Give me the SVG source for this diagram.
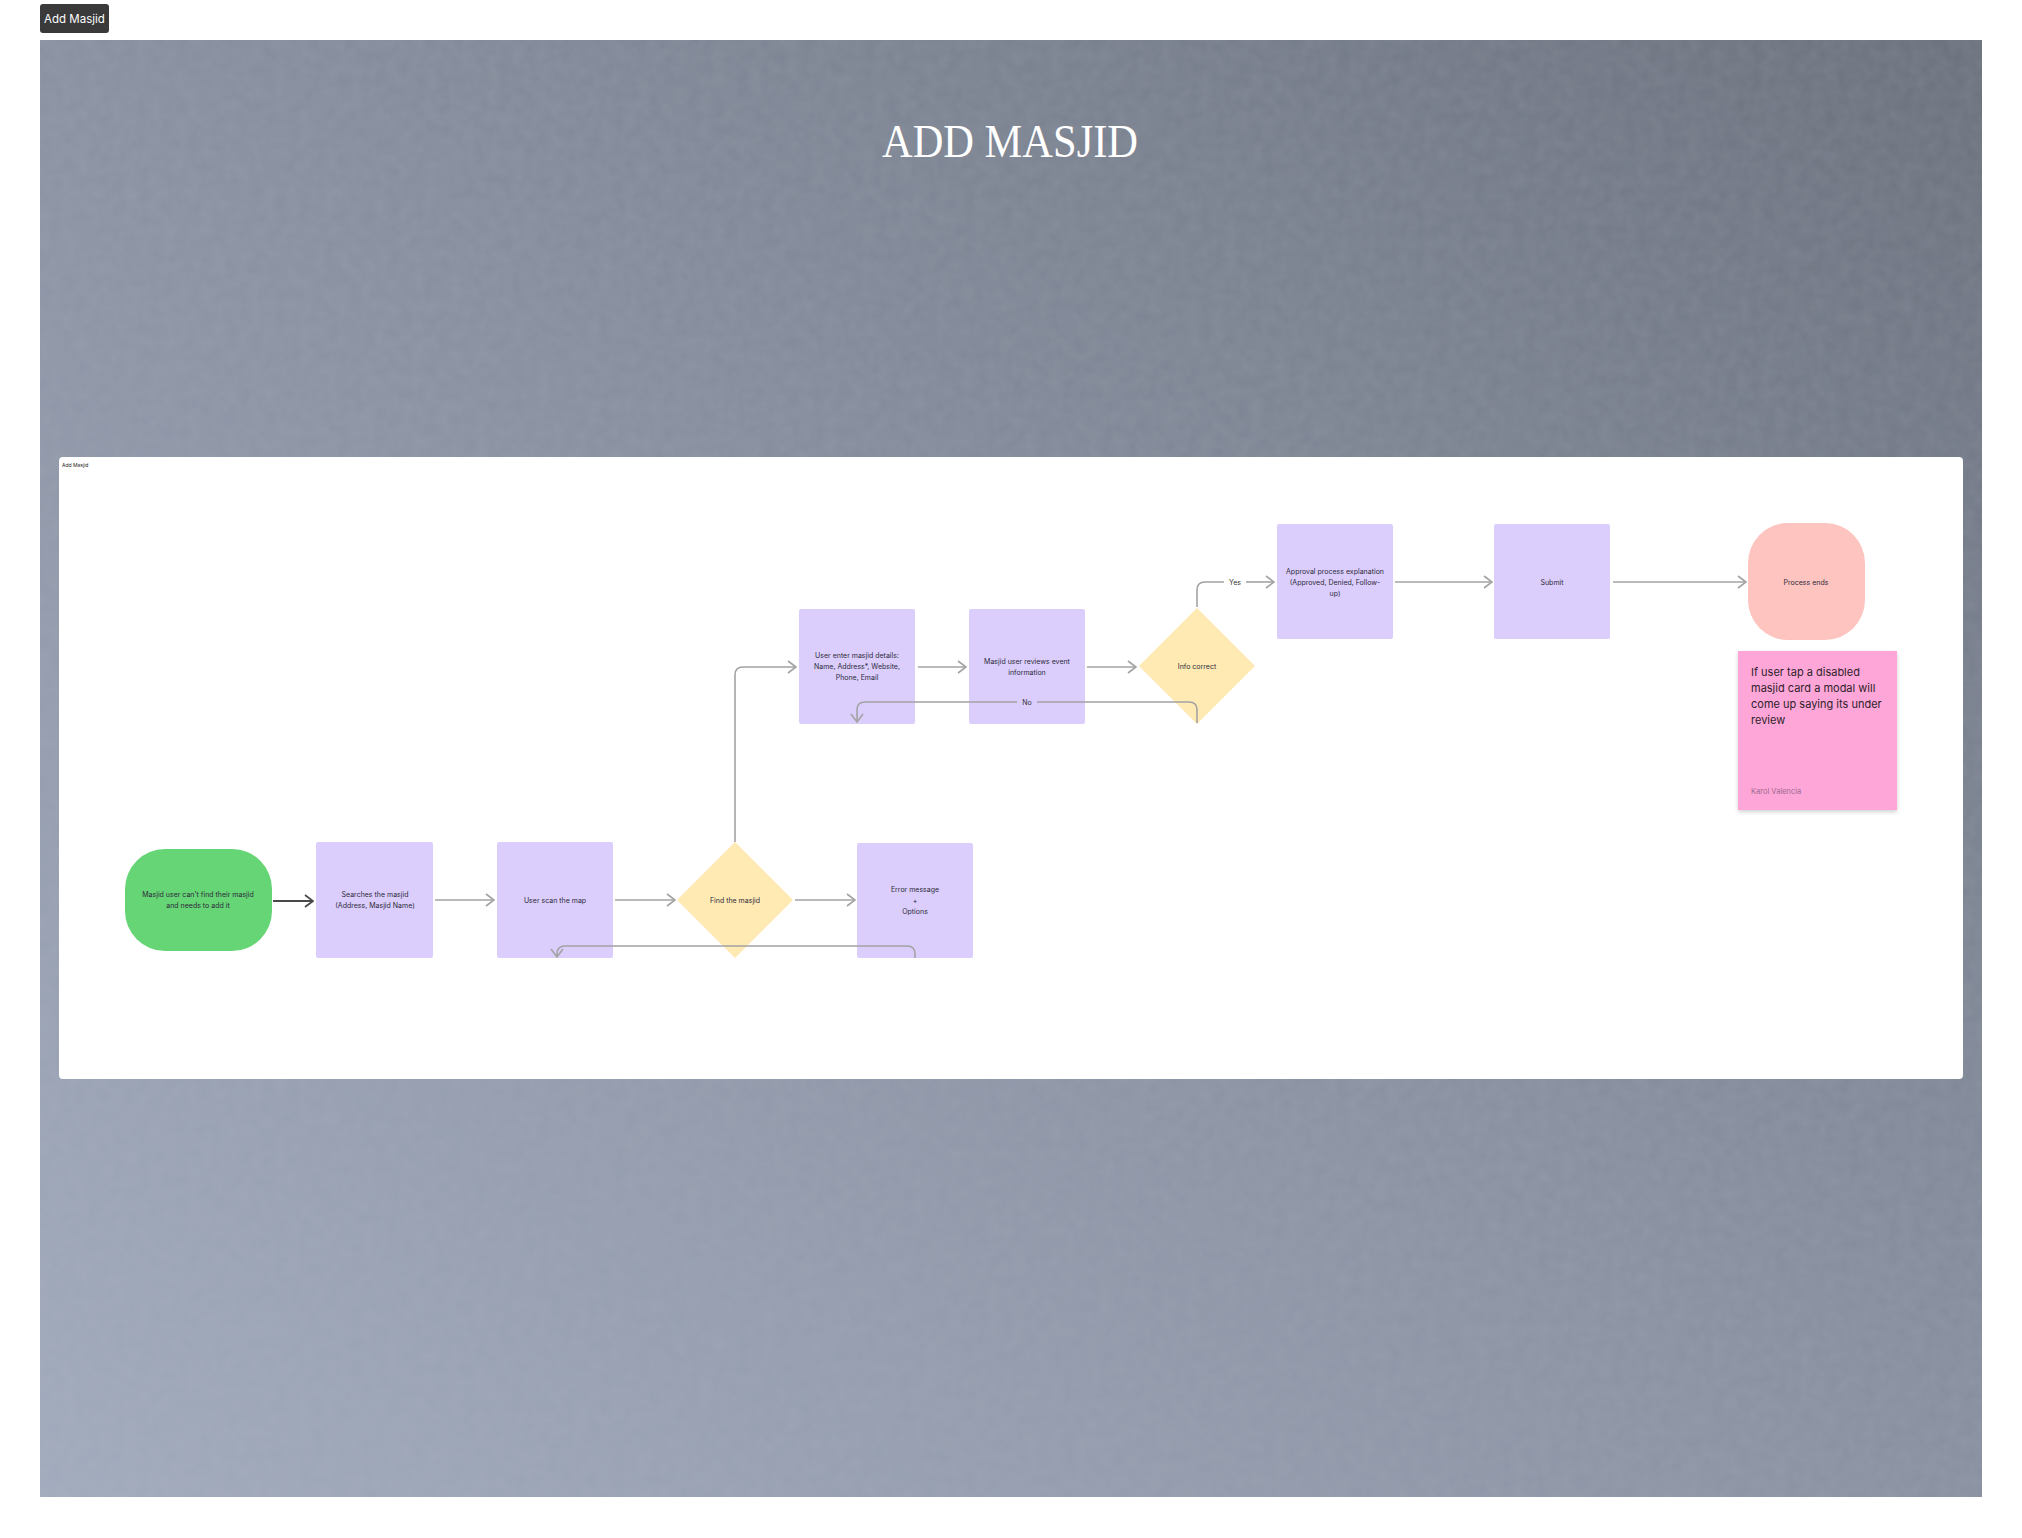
<svg xmlns="http://www.w3.org/2000/svg" width="2022" height="1538" viewBox="0 0 2022 1538">
<defs>
<linearGradient id="bg" x1="0" y1="1" x2="1" y2="0">
<stop offset="0" stop-color="#a2abbd"/>
<stop offset="0.5" stop-color="#8a92a2"/>
<stop offset="1" stop-color="#6c727e"/>
</linearGradient>
<filter id="noise" x="0" y="0" width="100%" height="100%">
<feTurbulence type="fractalNoise" baseFrequency="0.08" numOctaves="2" seed="4"/>
<feColorMatrix type="matrix" values="0 0 0 0 0.5  0 0 0 0 0.52  0 0 0 0 0.58  0 0 0 0.18 -0.04"/>
<feComposite in2="SourceGraphic" operator="in"/>
</filter>
<filter id="shadow" x="-10%" y="-10%" width="130%" height="130%">
<feDropShadow dx="0" dy="2" stdDeviation="2" flood-color="#000" flood-opacity="0.18"/>
</filter>
<marker id="arr" viewBox="0 0 10 14" refX="9" refY="7" markerWidth="10" markerHeight="14" orient="auto" markerUnits="userSpaceOnUse">
<path d="M1,1 L9,7 L1,13" fill="none" stroke="#a3a3a3" stroke-width="1.6"/>
</marker>
<marker id="arrDark" viewBox="0 0 10 14" refX="9" refY="7" markerWidth="10" markerHeight="14" orient="auto" markerUnits="userSpaceOnUse">
<path d="M1,1 L9,7 L1,13" fill="none" stroke="#4a4a4a" stroke-width="1.8"/>
</marker>
</defs>
<style>
.t{font-family:Inter,"Noto Sans","Liberation Sans",sans-serif;font-size:7px;fill:#2d2a3a;text-anchor:middle}
.box{fill:#dbcefc}
.dia{fill:#ffeab4}
.conn{fill:none;stroke:#a3a3a3;stroke-width:1.6}
.lbl{font-family:Inter,"Noto Sans","Liberation Sans",sans-serif;font-size:7px;fill:#333;text-anchor:middle}
</style>
<rect width="2022" height="1538" fill="#ffffff"/>
<g id="button">
<rect x="40" y="4" width="69" height="29" rx="3" fill="#3a3a3a"/>
<text x="74.5" y="22.5" font-family="Inter,'Noto Sans','Liberation Sans',sans-serif" font-size="11.5" fill="#ffffff" text-anchor="middle">Add Masjid</text>
</g>
<g id="background">
<rect x="40" y="40" width="1942" height="1457" fill="url(#bg)"/>
<rect x="40" y="40" width="1942" height="1457" fill="#888" filter="url(#noise)"/>
</g>
<text id="title" x="1010" y="157" font-family="'Liberation Serif','DejaVu Serif',serif" font-size="46" fill="#ffffff" text-anchor="middle" textLength="256" lengthAdjust="spacingAndGlyphs">ADD MASJID</text>
<g id="panel">
<rect x="59" y="457" width="1904" height="622" rx="4" fill="#ffffff"/>
<text x="62" y="467" font-family="Inter,'Noto Sans','Liberation Sans',sans-serif" font-size="5" fill="#222">Add Masjid</text>
</g>
<g id="start">
<rect x="125" y="849" width="147" height="102" rx="40" fill="#66d576"/>
<text class="t" x="198" y="897" fill="#173a1c">Masjid user can't find their masjid</text>
<text class="t" x="198" y="908">and needs to add it</text>
</g>
<g id="search">
<rect class="box" x="316" y="842" width="117" height="116" rx="2"/>
<text class="t" x="375" y="897">Searches the masjid</text>
<text class="t" x="375" y="908">(Address, Masjid Name)</text>
</g>
<g id="scan">
<rect class="box" x="497" y="842" width="116" height="116" rx="2"/>
<text class="t" x="555" y="903">User scan the map</text>
</g>
<g id="find">
<polygon class="dia" points="735,842 793,900 735,958 677,900"/>
<text class="t" x="735" y="903">Find the masjid</text>
</g>
<g id="error">
<rect class="box" x="857" y="843" width="116" height="115" rx="2"/>
<text class="t" x="915" y="892">Error message</text>
<text class="t" x="915" y="903">+</text>
<text class="t" x="915" y="914">Options</text>
</g>
<g id="enter">
<rect class="box" x="799" y="609" width="116" height="115" rx="2"/>
<text class="t" x="857" y="658">User enter masjid details:</text>
<text class="t" x="857" y="669">Name, Address*, Website,</text>
<text class="t" x="857" y="680">Phone, Email</text>
</g>
<g id="review">
<rect class="box" x="969" y="609" width="116" height="115" rx="2"/>
<text class="t" x="1027" y="664">Masjid user reviews event</text>
<text class="t" x="1027" y="675">information</text>
</g>
<g id="info">
<polygon class="dia" points="1197,608 1255,666 1197,724 1139,666"/>
<text class="t" x="1197" y="669">Info correct</text>
</g>
<g id="approval">
<rect class="box" x="1277" y="524" width="116" height="115" rx="2"/>
<text class="t" x="1335" y="574">Approval process explanation</text>
<text class="t" x="1335" y="585">(Approved, Denied, Follow-</text>
<text class="t" x="1335" y="596">up)</text>
</g>
<g id="submit">
<rect class="box" x="1494" y="524" width="116" height="115" rx="2"/>
<text class="t" x="1552" y="585">Submit</text>
</g>
<g id="end">
<rect x="1748" y="523" width="117" height="117" rx="40" fill="#fec4bf"/>
<text class="t" x="1806" y="585">Process ends</text>
</g>
<g id="sticky">
<rect x="1738" y="651" width="159" height="159" fill="#ffa6d9" filter="url(#shadow)"/>
<g font-family="Inter,'Noto Sans','Liberation Sans',sans-serif" font-size="11" fill="#2d1f2a">
<text x="1751" y="676">If user tap a disabled</text>
<text x="1751" y="692">masjid card a modal will</text>
<text x="1751" y="708">come up saying its under</text>
<text x="1751" y="724">review</text>
</g>
<text x="1751" y="794" font-family="Inter,'Noto Sans','Liberation Sans',sans-serif" font-size="7.5" fill="#9a6b8c">Karol Valencia</text>
</g>
<g id="connectors">
<path d="M273,901 H313" fill="none" stroke="#4a4a4a" stroke-width="2" marker-end="url(#arrDark)"/>
<path class="conn" d="M435,900 H494" marker-end="url(#arr)"/>
<path class="conn" d="M615,900 H675" marker-end="url(#arr)"/>
<path class="conn" d="M795,900 H855" marker-end="url(#arr)"/>
<path class="conn" d="M735,842 V675 Q735,667 743,667 H796" marker-end="url(#arr)"/>
<path class="conn" d="M915,958 V954 Q915,946 907,946 H565 Q557,946 557,954 V957" marker-end="url(#arr)"/>
<path class="conn" d="M918,667 H966" marker-end="url(#arr)"/>
<path class="conn" d="M1087,667 H1136" marker-end="url(#arr)"/>
<path class="conn" d="M1197,723 V710 Q1197,702 1189,702 H1037"/>
<path class="conn" d="M1017,702 H865 Q857,702 857,710 V722" marker-end="url(#arr)"/>
<text class="lbl" x="1027" y="704.5">No</text>
<path class="conn" d="M1197,607 V590 Q1197,582 1205,582 H1224"/>
<path class="conn" d="M1246,582 H1274" marker-end="url(#arr)"/>
<text class="lbl" x="1235" y="584.5">Yes</text>
<path class="conn" d="M1395,582 H1492" marker-end="url(#arr)"/>
<path class="conn" d="M1613,582 H1746" marker-end="url(#arr)"/>
</g>
</svg>
